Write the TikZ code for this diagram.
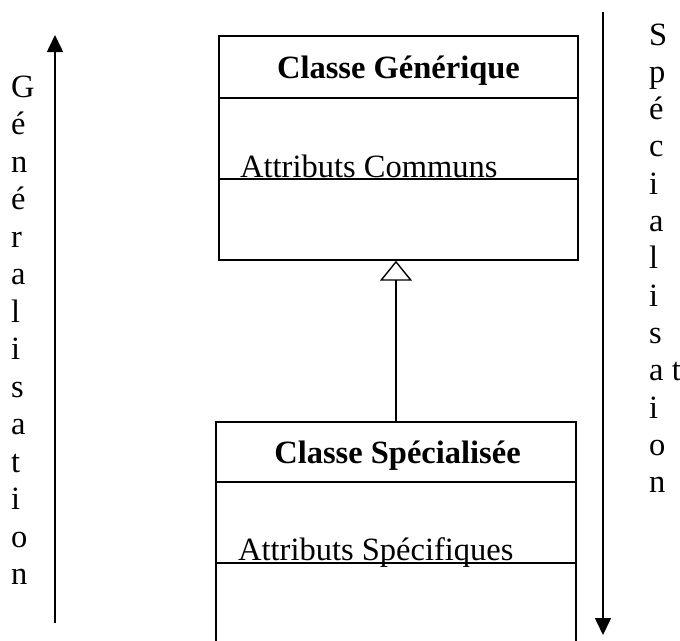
\documentclass[tikz,border=0pt]{standalone}
\usepackage{fontspec}
\setmainfont{Liberation Serif}
\usetikzlibrary{arrows.meta}
\begin{document}
\begin{tikzpicture}[x=1pt,y=-1pt,
  classbox/.style={draw,line width=1.4pt,rectangle,inner sep=0pt},
  rule/.style={line width=1.4pt},
  title/.style={font=\fontsize{32.5}{36}\selectfont\bfseries,anchor=base,inner sep=0pt},
  attr/.style={font=\fontsize{32.5}{36}\selectfont,anchor=base west,inner sep=0pt},
  letter/.style={font=\fontsize{32.5}{36}\selectfont,anchor=base west,inner sep=0pt},
  bigarrow/.style={line width=1.6pt,-{Triangle[length=17pt,width=16pt]}}]
\useasboundingbox (0,0) rectangle (680,640);
% generic class
\node[classbox,minimum width=359pt,minimum height=224pt] (gen) at (398.5,148) {};
\draw[rule] (219,98) -- (578,98);
\draw[rule] (219,179) -- (578,179);
\node[title] (gentitle) at (398.5,78) {Classe Générique};
\node[attr] (genattr) at (240,177) {Attributs Communs};
% specialised class
\node[classbox,minimum width=360pt,minimum height=240pt] (spec) at (396,542) {};
\draw[rule] (216,482) -- (576,482);
\draw[rule] (216,563) -- (576,563);
\node[title] (spectitle) at (397.5,463) {Classe Spécialisée};
\node[attr] (specattr) at (238,560) {Attributs Spécifiques};
% inheritance
\draw[rule,-{Triangle[open,length=20pt,width=32pt,line width=1.4pt]}] (spec.north) -- (spec.north |- gen.south);
% generalisation arrow
\coordinate (gbot) at (55,623);
\coordinate (gtop) at (55,35);
\draw[bigarrow] (gbot) -- (gtop);
\foreach \l [count=\i from 0] in {G,é,n,é,r,a,l,i,s,a,t,i,o,n}
  \node[letter] (g\i) at (11,97+37.5*\i) {\l};
% specialisation arrow
\coordinate (stop) at (603,12);
\coordinate (sbot) at (603,635);
\draw[bigarrow] (stop) -- (sbot);
\foreach \l [count=\i from 0] in {S,p,é,c,i,a,l,i,s,a t,i,o,n}
  \node[letter] (s\i) at (649,45+37.33*\i) {\l};
\end{tikzpicture}
\end{document}
